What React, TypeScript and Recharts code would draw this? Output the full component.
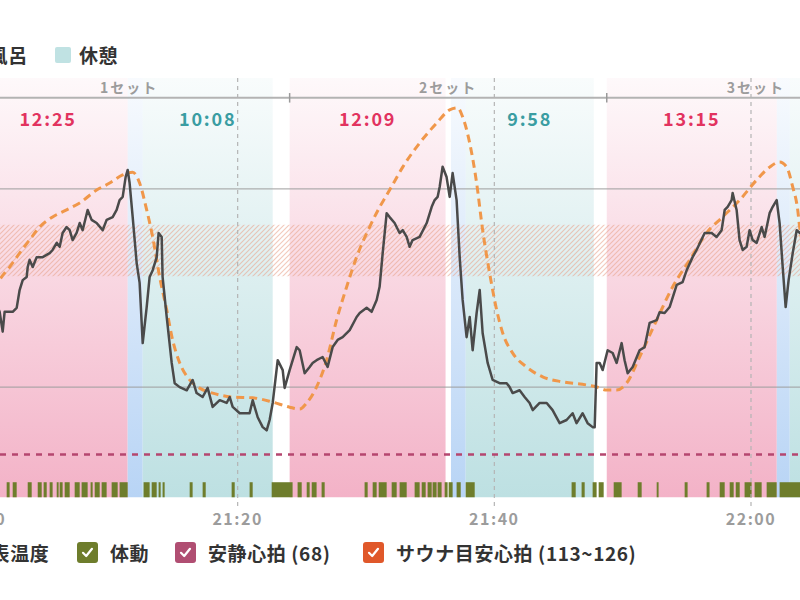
import React from 'react';
import { ComposedChart, Line, XAxis, YAxis, ReferenceArea, ReferenceLine } from 'recharts';

// minutes after 21:00
const TIME_TICKS = [0, 20, 40, 60];
const HR_GRID = [85, 135];
const RESTING_HR = 68;
const TARGET_LOW = 113;
const TARGET_HIGH = 126;

type Phase = { kind: 'sauna' | 'cold' | 'rest'; start: number; end: number; label?: string };
const phases: Phase[] = [
  { kind: 'sauna', start: -0.97, end: 11.43, label: '12:25' },
  { kind: 'cold', start: 11.43, end: 12.6 },
  { kind: 'rest', start: 12.6, end: 22.73, label: '10:08' },
  { kind: 'sauna', start: 24.05, end: 36.2, label: '12:09' },
  { kind: 'cold', start: 36.62, end: 37.77 },
  { kind: 'rest', start: 37.77, end: 47.75, label: '9:58' },
  { kind: 'sauna', start: 48.76, end: 62.01, label: '13:15' },
  { kind: 'cold', start: 62.01, end: 63.02 },
  { kind: 'rest', start: 63.02, end: 72 },
];

const sets = [
  { label: '1セット', start: -0.97, end: 24.05 },
  { label: '2セット', start: 24.05, end: 48.76 },
  { label: '3セット', start: 48.76, end: 72 },
];

const heartRate: [number, number][] = [
  [1.06,107],[1.45,104],[1.69,99],[1.84,104],[2.0,104],[2.47,104],[2.78,105],[3.01,109.5],[3.25,112],[3.56,112.8],
  [3.64,115.3],[3.79,117.1],[4.03,115.3],[4.34,117.8],[4.81,117.8],[5.35,118.8],[5.58,119.6],[5.9,121.4],[6.13,120.4],[6.36,123.9],
  [6.67,125.4],[6.91,124.6],[7.14,122.1],[7.45,123.9],[7.69,126.4],[7.92,124.6],[8.31,129.7],[8.62,127.2],[9.01,126.4],[9.48,124.6],
  [9.79,127.2],[10.26,127.9],[10.57,129.7],[10.8,132.2],[11.04,133],[11.27,138],[11.43,139.8],[11.58,136.5],[11.82,127.9],[12.13,116.3],
  [12.36,111.3],[12.6,96.1],[12.91,105.2],[13.14,112.8],[13.38,114.5],[13.69,117.8],[13.84,123.9],[14.08,122.9],[14.15,112.8],[14.47,102.7],
  [14.86,91.1],[15.09,86],[15.48,85],[16.03,84.2],[16.49,86.8],[16.8,83.5],[17.27,82.5],[17.66,84.8],[18.05,80],[18.6,81.7],
  [19.14,81],[19.38,82.5],[19.61,80],[20.16,78.4],[20.93,78.4],[21.17,81.7],[21.56,77.4],[21.95,74.9],[22.26,74.1],[22.49,76.7],
  [22.73,81],[23.12,91.8],[23.51,89.3],[23.66,84.8],[24.05,89.3],[24.6,95.1],[24.83,94.3],[25.22,88.5],[25.61,90.1],[25.84,91.1],
  [26.15,91.8],[26.62,92.6],[27.01,90.1],[27.4,95.1],[27.79,96.9],[28.18,97.6],[28.73,99.4],[29.27,102.7],[29.51,103.7],[30.05,105],
  [30.44,104],[30.83,107],[31.06,110.3],[31.3,118.8],[31.61,128.9],[31.84,127.9],[32.23,126.4],[32.62,123.9],[32.86,124.6],[33.17,122.9],
  [33.4,120.4],[33.63,122.1],[34.18,122.9],[34.73,126.4],[35.12,130.5],[35.35,132.2],[35.58,133],[35.74,135.5],[35.97,140.6],[36.28,138],
  [36.52,133],[36.75,139],[37.06,132.2],[37.3,117.8],[37.53,107],[37.84,97.6],[38.08,102.7],[38.31,94.3],[38.62,103.7],[38.86,109.5],
  [39.09,98.6],[39.48,91.1],[39.87,86.8],[40.41,86],[40.96,86],[41.19,85],[41.43,83.5],[41.97,84.2],[42.36,82.5],[42.75,81],
  [42.99,79.2],[43.53,81],[44.08,81],[44.54,79.2],[45.09,75.9],[45.63,76.7],[46.1,78.4],[46.41,75.9],[46.88,78.4],[47.27,75.9],
  [47.66,74.9],[47.82,74.9],[47.97,91.1],[48.21,91.1],[48.44,89.3],[48.83,94.3],[49.22,93.6],[49.53,91.1],[49.92,96.1],[50.15,91.8],
  [50.39,88.5],[50.78,90.1],[51.32,94.3],[51.71,95.1],[52.1,101.2],[52.65,101.9],[52.88,103.9],[53.27,103.7],[53.66,105.2],[54.21,110.8],
  [54.67,111.5],[54.99,114.5],[55.45,117.8],[55.76,119.6],[56.39,123.9],[56.93,123.9],[57.32,122.9],[57.71,124.6],[57.95,129.7],[58.18,130.5],
  [58.49,132.2],[58.57,134],[58.88,129.7],[59.11,122.1],[59.35,119.6],[59.66,120.4],[59.89,124.6],[60.13,122.1],[60.44,121.4],[60.83,125.4],
  [61.06,122.9],[61.45,128.9],[61.69,130.5],[62.0,132.2],[62.23,126.4],[62.47,115.3],[62.7,105.2],[62.93,112],[63.25,118.8],[63.56,124.6],
  [63.79,123.9],[64.18,125],
];

const skinTemp: [number, number][] = [
  [1.06,35.55],[1.45,35.81],[2.23,36.14],[3.01,36.5],[3.79,36.84],[4.57,37.17],[5.58,37.43],[6.67,37.61],[7.69,37.79],[9.01,38.12],
  [10.03,38.3],[11.04,38.51],[11.82,38.58],[12.36,38.3],[12.91,37.61],[13.38,36.91],[13.92,35.89],[14.47,35.04],[14.93,34.27],[15.48,33.68],
  [16.26,33.24],[17.04,33.03],[18.05,32.9],[19.61,32.8],[21.17,32.78],[22.73,32.67],[24.05,32.54],[24.83,32.49],[25.38,32.65],[26.15,33.06],
  [26.93,33.75],[27.71,34.78],[28.49,35.63],[29.27,36.4],[30.28,37.17],[31.06,37.68],[31.84,38.12],[32.86,38.71],[34.18,39.33],[35.5,39.84],
  [36.52,40.18],[37.14,40.23],[37.53,40.0],[38.08,39.33],[38.62,38.3],[39.09,37.09],[39.63,35.99],[40.18,35.04],[40.65,34.45],[41.43,33.93],
  [42.52,33.57],[43.76,33.32],[45.32,33.19],[47.19,33.11],[47.97,33.06],[48.75,32.98],[49.53,32.98],[50.31,33.16],[51.32,33.83],[52.65,34.78],
  [53.89,35.63],[55.22,36.32],[56.54,37.02],[57.79,37.43],[59.11,37.86],[60.44,38.38],[61.45,38.71],[62.23,38.84],[62.78,38.71],[63.25,38.2],
  [63.64,37.61],[63.79,37.17],[64.18,36.58],
];

// body movement intervals [start, end] in minutes
const motion: [number, number][] = [
  [2.0,2.23],[2.47,2.78],[3.64,3.95],[4.42,4.73],[4.88,5.12],[5.35,5.58],[5.9,6.05],[6.13,6.36],[6.52,6.91],[7.3,7.69],
  [7.84,8.31],[8.54,8.7],[8.86,9.25],[9.4,9.79],[10.18,10.65],[10.8,11.43],[12.67,13.14],[13.3,13.69],[13.84,14.0],[14.15,14.31],
  [16.26,16.49],[17.27,17.51],[19.53,19.77],[20.93,21.17],[22.65,24.28],[24.67,24.99],[25.38,25.61],[25.77,26.15],[26.54,26.78],[29.89,30.13],
  [30.52,30.83],[30.99,31.61],[32.0,32.39],[32.62,33.17],[33.79,34.18],[34.34,34.65],[34.8,35.12],[35.19,35.5],[35.58,35.89],[36.13,36.36],
  [36.44,36.75],[37.06,37.38],[37.77,38.47],[46.02,46.34],[46.8,47.04],[47.66,47.97],[48.13,48.52],[49.3,49.92],[51.17,51.48],[52.65,52.8],
  [54.83,55.06],[56.54,56.77],[57.56,57.95],[58.34,58.65],[58.81,59.12],[59.5,60.05],[60.28,60.83],[61.22,62.0],[62.23,64.5],
];

const hrData = heartRate.map(([t, hr]) => ({ t, hr }));
const tempData = skinTemp.map(([t, temp]) => ({ t, temp }));

const BAND_BOTTOM = 57.2;
const BAND_TOP = 163;
const MOTION_TOP = 61.0;

const fmtTime = (m: number) => {
  const h = 21 + Math.floor(m / 60);
  const mm = m % 60;
  return `${h}:${mm.toString().padStart(2, '0')}`;
};

const FONT = '"Noto Sans CJK JP", "Noto Sans", sans-serif';

const Check = ({ color, left }: { color: string; left: number }) => (
  <div style={{ position: 'absolute', left, top: 542, width: 21, height: 21, borderRadius: 3, background: color }}>
    <svg width="21" height="21" viewBox="0 0 21 21">
      <path d="M6 10.8 L9.2 14 L15 6.8" fill="none" stroke="#fff" strokeWidth="2.2" strokeLinecap="round" strokeLinejoin="round" />
    </svg>
  </div>
);

const LegendText = ({ left, top, children }: { left: number; top: number; children: React.ReactNode }) => (
  <div style={{ position: 'absolute', left, top, fontSize: 19, fontWeight: 700, letterSpacing: '0.6px', lineHeight: '22px', color: '#333', whiteSpace: 'nowrap' }}>{children}</div>
);

export default function App() {
  const fills: Record<string, string> = { sauna: 'url(#gSauna)', cold: 'url(#gCold)', rest: 'url(#gRest)' };
  const labelColor: Record<string, string> = { sauna: '#e2335f', rest: '#3a9da2', cold: '#3a9da2' };
  return (
    <div style={{ position: 'absolute', left: 0, top: 0, width: 800, height: 600, overflow: 'hidden', background: '#fff', fontFamily: FONT }}>
      {/* top legend */}
      <div style={{ position: 'absolute', left: -172, top: 47, width: 16, height: 16, borderRadius: 2, background: '#f4b9cc' }} />
      <LegendText left={-148} top={44}>サウナ</LegendText>
      <div style={{ position: 'absolute', left: -55, top: 47, width: 16, height: 16, borderRadius: 2, background: '#b9d5f5' }} />
      <LegendText left={-31} top={44}>水風呂</LegendText>
      <div style={{ position: 'absolute', left: 55, top: 47, width: 16, height: 16, borderRadius: 2, background: '#c0e2e3' }} />
      <LegendText left={79} top={44}>休憩</LegendText>

      <div style={{ position: 'absolute', left: -96, top: 0 }}>
        <ComposedChart width={1001} height={600} margin={{ top: 78, right: 0, bottom: 0, left: 0 }}>
          <defs>
            <linearGradient id="gSauna" x1="0" y1="0" x2="0" y2="1">
              <stop offset="0" stopColor="#f3b2c7" stopOpacity={0.08} />
              <stop offset="1" stopColor="#f3b2c7" stopOpacity={1} />
            </linearGradient>
            <linearGradient id="gCold" x1="0" y1="0" x2="0" y2="1">
              <stop offset="0" stopColor="#b8d4f5" stopOpacity={0.1} />
              <stop offset="1" stopColor="#b8d4f5" stopOpacity={1} />
            </linearGradient>
            <linearGradient id="gRest" x1="0" y1="0" x2="0" y2="1">
              <stop offset="0" stopColor="#bde0e2" stopOpacity={0.1} />
              <stop offset="1" stopColor="#bde0e2" stopOpacity={1} />
            </linearGradient>
            <pattern id="hatch" patternUnits="userSpaceOnUse" width="5" height="5">
              <path d="M-1,1 l2,-2 M0,5 l5,-5 M4,6 l2,-2" stroke="#eaa58e" strokeWidth="1.1" strokeOpacity="0.6" />
            </pattern>
          </defs>
          <XAxis
            dataKey="t"
            type="number"
            domain={[-6, 72]}
            allowDataOverflow
            ticks={TIME_TICKS}
            tickFormatter={fmtTime}
            axisLine={false}
            tickLine={false}
            height={94}
            tick={{ fill: '#9c9c9c', fontSize: 16, fontWeight: 700, fontFamily: FONT, letterSpacing: 1.5 }}
          />
          <YAxis yAxisId="hr" hide domain={[55, 163]} ticks={HR_GRID} allowDataOverflow />
          <YAxis yAxisId="temp" hide domain={[30, 41]} allowDataOverflow />

          {phases.map((p, i) => (
            <ReferenceArea
              key={`ph${i}`}
              yAxisId="hr"
              x1={p.start}
              x2={p.end}
              y1={BAND_BOTTOM}
              y2={BAND_TOP}
              fill={fills[p.kind]}
              fillOpacity={1}
              stroke="none"
              label={p.label ? { value: p.label, position: 'insideTop', offset: 35, fill: labelColor[p.kind], fontSize: 18, fontWeight: 700, fontFamily: FONT, letterSpacing: 1.8 } : undefined}
            />
          ))}

          <ReferenceArea yAxisId="hr" x1={-6} x2={72} y1={TARGET_LOW} y2={TARGET_HIGH} fill="url(#hatch)" fillOpacity={1} stroke="none" />

          {HR_GRID.map((v) => (
            <ReferenceLine key={`g${v}`} yAxisId="hr" y={v} stroke="#9e9e9e" strokeWidth={1.3} strokeOpacity={0.8} />
          ))}
          {TIME_TICKS.map((v) => (
            <ReferenceLine key={`v${v}`} yAxisId="hr" x={v} stroke="#b4b4b4" strokeWidth={1.2} strokeDasharray="4 4" />
          ))}

          <ReferenceLine yAxisId="hr" y={158} stroke="#b3b3b3" strokeWidth={2} />
          {sets.slice(1).map((s, i) => (
            <ReferenceLine
              key={`st${i}`}
              yAxisId="hr"
              segment={[{ x: s.start, y: 159.2 }, { x: s.start, y: 156.8 }]}
              stroke="#9a9a9a"
              strokeWidth={1.5}
            />
          ))}
          {sets.map((s, i) => (
            <ReferenceArea
              key={`sl${i}`}
              yAxisId="hr"
              x1={s.start}
              x2={s.end}
              y1={158}
              y2={163}
              fill="#fff"
              fillOpacity={0}
              stroke="none"
              label={{ value: s.label, position: 'center', fill: '#9c9c9c', fontSize: 14, fontWeight: 700, fontFamily: FONT, letterSpacing: 2 }}
            />
          ))}

          <ReferenceLine yAxisId="hr" y={RESTING_HR} stroke="#b5466f" strokeWidth={2.4} strokeDasharray="6 6" />

          {motion.map(([a, b], i) => (
            <ReferenceArea key={`m${i}`} yAxisId="hr" x1={a} x2={b} y1={BAND_BOTTOM} y2={MOTION_TOP} fill="#6e7d2c" fillOpacity={1} stroke="none" ifOverflow="hidden" />
          ))}

          <Line
            yAxisId="temp"
            data={tempData}
            dataKey="temp"
            type="monotone"
            stroke="#f0974a"
            strokeWidth={3}
            strokeDasharray="8 5"
            dot={false}
            isAnimationActive={false}
          />
          <Line
            yAxisId="hr"
            data={hrData}
            dataKey="hr"
            type="linear"
            stroke="#4a4a4a"
            strokeWidth={2.5}
            strokeLinejoin="round"
            dot={false}
            isAnimationActive={false}
          />
        </ComposedChart>
      </div>

      {/* bottom legend */}
      <Check color="#e0582a" left={-62} />
      <LegendText left={-29} top={542}>体表温度</LegendText>
      <Check color="#6e7d2c" left={77} />
      <LegendText left={110} top={542}>体動</LegendText>
      <Check color="#b04e72" left={175} />
      <LegendText left={208} top={542}>安静心拍 (68)</LegendText>
      <Check color="#e0582a" left={363} />
      <LegendText left={396} top={542}>サウナ目安心拍 (113~126)</LegendText>
    </div>
  );
}
